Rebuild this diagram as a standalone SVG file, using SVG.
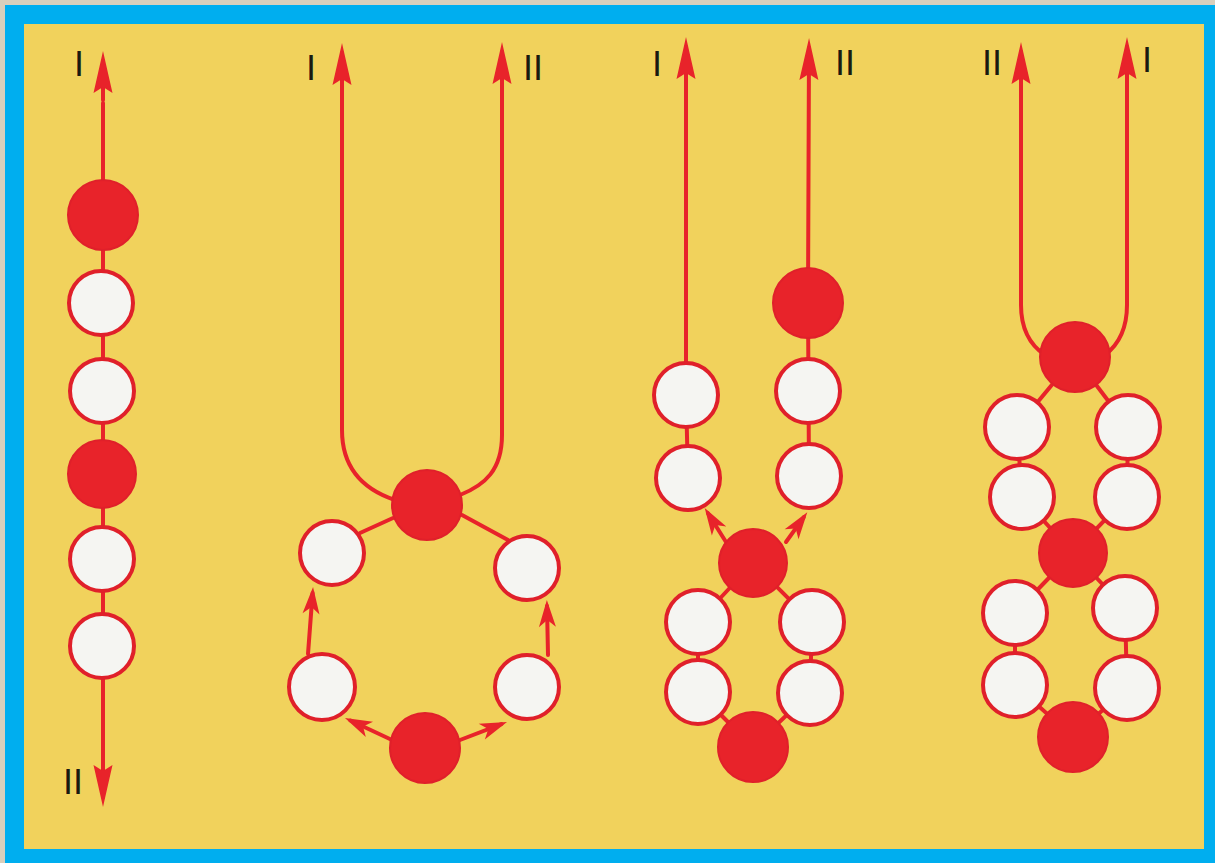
<svg xmlns="http://www.w3.org/2000/svg" width="1215" height="863" viewBox="0 0 1215 863">
<style>
.thread{fill:none;stroke:#E8232A;stroke-width:4;stroke-linecap:round;stroke-linejoin:round}
.red{fill:#E8232A;stroke:#E0202A;stroke-width:2}
.white{fill:#F5F5F2;stroke:#E0202A;stroke-width:4}
.lbl{font-family:"DejaVu Sans",sans-serif;font-size:34px;fill:#1a1a10;text-anchor:middle}
</style>
<defs>
<marker id="bigArrow" viewBox="-44 -11 46 22" refX="-10" refY="0" markerWidth="46" markerHeight="22" markerUnits="userSpaceOnUse" orient="auto">
<path d="M0,0 L-42,-9.5 L-36,0 L-42,9.5 Z" fill="#E8232A"/>
</marker>
<marker id="smallArrow" viewBox="-30 -10 32 20" refX="-6" refY="0" markerWidth="32" markerHeight="20" markerUnits="userSpaceOnUse" orient="auto">
<path d="M0,0 L-27,-8.5 L-20,0 L-27,8.5 Z" fill="#E8232A"/>
</marker>
</defs>
<rect x="0" y="0" width="1215" height="863" fill="#D9CFBC"/>
<rect x="5" y="5" width="1210" height="858" fill="#00AEEF"/>
<rect x="24" y="24" width="1180" height="825" fill="#F1D25C"/>

<g id="connectors">
<!-- diagram 1 -->
<path class="thread" d="M103,103 L103,200"/>
<path class="thread" d="M103,100 L103,61" marker-end="url(#bigArrow)"/>
<path class="thread" d="M103,200 L103,760"/>
<path class="thread" d="M103,700 L103,797" marker-end="url(#bigArrow)"/>
<!-- diagram 2 -->
<path class="thread" d="M395,500 C365,490 342,470 342,430 L342,53" marker-end="url(#bigArrow)"/>
<path class="thread" d="M460,495 C485,485 502,470 502,435 L502,52" marker-end="url(#bigArrow)"/>
<path class="thread" d="M393,518 L360,533"/>
<path class="thread" d="M462,515 L508,540"/>
<path class="thread" d="M308,654 L312.6,593" marker-end="url(#smallArrow)"/>
<path class="thread" d="M548,655 L547,606" marker-end="url(#smallArrow)"/>
<path class="thread" d="M392,740 L350.4,720.5" marker-end="url(#smallArrow)"/>
<path class="thread" d="M460,740 L501.4,724.1" marker-end="url(#smallArrow)"/>
<!-- diagram 3 -->
<path class="thread" d="M686,395 L686,47" marker-end="url(#bigArrow)"/>
<path class="thread" d="M686,395 L688,478"/>
<path class="thread" d="M809,476 L808,303 L809,48" marker-end="url(#bigArrow)"/>
<path class="thread" d="M726,542 L707.9,513.2" marker-end="url(#smallArrow)"/>
<path class="thread" d="M786,542 L803.8,517.1" marker-end="url(#smallArrow)"/>
<path class="thread" d="M753,563 L698,622 L698,692 L753,747 L810,693 L812,622 Z"/>
<!-- diagram 4 -->
<path class="thread" d="M1045,355 C1030,345 1021,330 1021,305 L1021,52" marker-end="url(#bigArrow)"/>
<path class="thread" d="M1105,355 C1118,345 1127,330 1127,305 L1127,47" marker-end="url(#bigArrow)"/>
<path class="thread" d="M1075,357 L1017,427 L1022,497 L1073,553 L1125,608 L1127,688 L1073,737 L1015,685 L1015,613 L1073,553 L1127,497 L1128,427 Z"/>
</g>

<g id="diagram1">
<circle id="d1-b1" class="red" cx="103" cy="215" r="35"/>
<circle id="d1-b2" class="white" cx="101" cy="303" r="32"/>
<circle id="d1-b3" class="white" cx="102" cy="391" r="32"/>
<circle id="d1-b4" class="red" cx="102" cy="474" r="34"/>
<circle id="d1-b5" class="white" cx="102" cy="559" r="32"/>
<circle id="d1-b6" class="white" cx="102" cy="646" r="32"/>
<text class="lbl" x="79" y="76">I</text>
<text class="lbl" x="73" y="794">II</text>
</g>

<g id="diagram2">
<circle id="d2-top" class="red" cx="427" cy="505" r="35"/>
<circle id="d2-ul" class="white" cx="332" cy="553" r="32"/>
<circle id="d2-ur" class="white" cx="527" cy="568" r="32"/>
<circle id="d2-ll" class="white" cx="322" cy="687" r="33"/>
<circle id="d2-lr" class="white" cx="527" cy="687" r="32"/>
<circle id="d2-bottom" class="red" cx="425" cy="748" r="35"/>
<text class="lbl" x="311" y="80">I</text>
<text class="lbl" x="533" y="80">II</text>
</g>

<g id="diagram3">
<circle id="d3-l1" class="white" cx="686" cy="395" r="32"/>
<circle id="d3-l2" class="white" cx="688" cy="478" r="32"/>
<circle id="d3-rtop" class="red" cx="808" cy="303" r="35"/>
<circle id="d3-r1" class="white" cx="808" cy="391" r="32"/>
<circle id="d3-r2" class="white" cx="809" cy="476" r="32"/>
<circle id="d3-mid" class="red" cx="753" cy="563" r="34"/>
<circle id="d3-l3" class="white" cx="698" cy="622" r="32"/>
<circle id="d3-r3" class="white" cx="812" cy="622" r="32"/>
<circle id="d3-l4" class="white" cx="698" cy="692" r="32"/>
<circle id="d3-r4" class="white" cx="810" cy="693" r="32"/>
<circle id="d3-bottom" class="red" cx="753" cy="747" r="35"/>
<text class="lbl" x="657" y="76">I</text>
<text class="lbl" x="845" y="75">II</text>
</g>

<g id="diagram4">
<circle id="d4-top" class="red" cx="1075" cy="357" r="35"/>
<circle id="d4-l1" class="white" cx="1017" cy="427" r="32"/>
<circle id="d4-r1" class="white" cx="1128" cy="427" r="32"/>
<circle id="d4-l2" class="white" cx="1022" cy="497" r="32"/>
<circle id="d4-r2" class="white" cx="1127" cy="497" r="32"/>
<circle id="d4-mid" class="red" cx="1073" cy="553" r="34"/>
<circle id="d4-l3" class="white" cx="1015" cy="613" r="32"/>
<circle id="d4-r3" class="white" cx="1125" cy="608" r="32"/>
<circle id="d4-l4" class="white" cx="1015" cy="685" r="32"/>
<circle id="d4-r4" class="white" cx="1127" cy="688" r="32"/>
<circle id="d4-bottom" class="red" cx="1073" cy="737" r="35"/>
<text class="lbl" x="992" y="75">II</text>
<text class="lbl" x="1147" y="72">I</text>
</g>
</svg>
